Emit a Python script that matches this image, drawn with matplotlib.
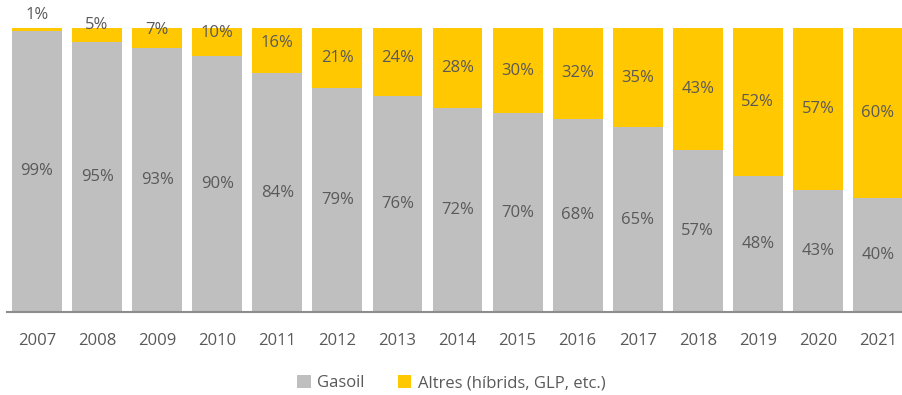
import matplotlib.pyplot as plt

YEARS = ["2007", "2008", "2009", "2010", "2011", "2012", "2013", "2014",
         "2015", "2016", "2017", "2018", "2019", "2020", "2021"]
GASOIL = [99, 95, 93, 90, 84, 79, 76, 72, 70, 68, 65, 57, 48, 43, 40]
ALTRES = [1, 5, 7, 10, 16, 21, 24, 28, 30, 32, 35, 43, 52, 57, 60]

GREY = "#BFBFBF"
GOLD = "#FFC800"
TEXT = "#595959"

# small upward nudges (pixels) so the thin top segments keep readable labels
ALTRES_NUDGE = {0: 14, 1: 10, 2: 8, 3: 9, 4: 8, 6: 4}

plt.rcParams["font.family"] = ["Open Sans", "DejaVu Sans"]

fig = plt.figure(figsize=(9.03, 3.95), dpi=100)
ax = fig.add_axes([7 / 903, 83 / 395, 896 / 903, 284 / 395])

x = range(len(YEARS))
ax.bar(x, GASOIL, width=0.83, color=GREY, label="Gasoil")
ax.bar(x, ALTRES, width=0.83, bottom=GASOIL, color=GOLD,
       label="Altres (híbrids, GLP, etc.)")

for i, (g, a) in enumerate(zip(GASOIL, ALTRES)):
    ax.annotate(f"{g}%", (i, g / 2), ha="center", va="center",
                fontsize=12, color=TEXT)
    ax.annotate(f"{a}%", (i, g + a / 2), xytext=(0, ALTRES_NUDGE.get(i, 0)),
                textcoords="offset pixels", ha="center", va="center",
                fontsize=12, color=TEXT)

ax.set_xlim(-0.5, 14.416)
ax.set_ylim(0, 100)
ax.set_xticks(list(x))
ax.set_xticklabels(YEARS, fontsize=12, color=TEXT)
ax.tick_params(axis="x", length=0, pad=15)
ax.set_yticks([])
for side in ["top", "right", "left"]:
    ax.spines[side].set_visible(False)
ax.spines["bottom"].set_color("#8C8C8C")
ax.spines["bottom"].set_linewidth(1.5)

fig.legend(loc="center", bbox_to_anchor=(0.5, 12 / 395), ncol=2, frameon=False,
           fontsize=12, labelcolor=TEXT, handlelength=0.8, handleheight=0.8,
           handletextpad=0.4, columnspacing=2.0)

fig.savefig("out.png", dpi=100)
